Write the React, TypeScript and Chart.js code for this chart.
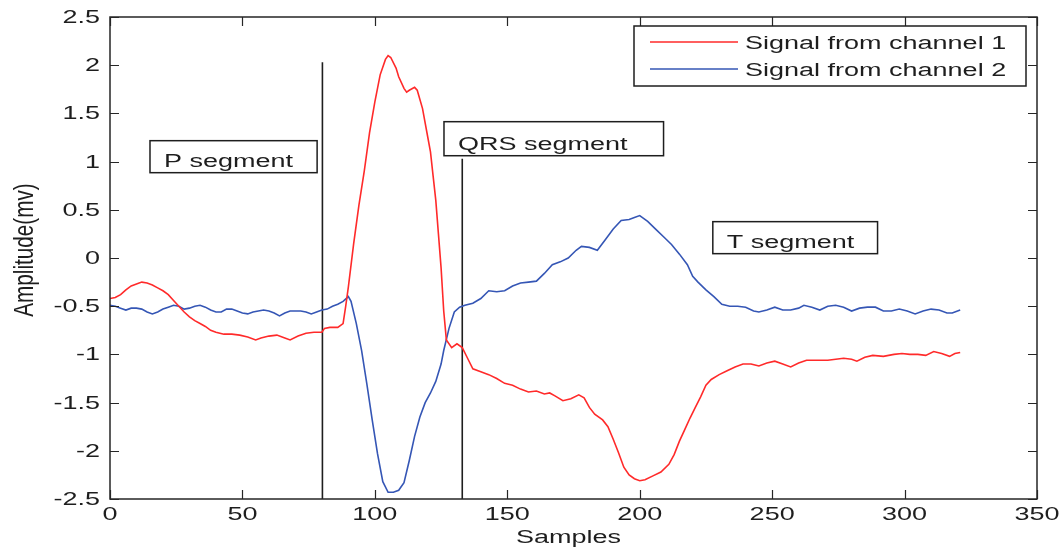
import React, { useEffect, useRef } from 'react';
import { Chart, registerables } from 'chart.js';

Chart.register(...registerables);

// ---- Data ----
const ch1Samples = [
  0, 2, 4, 6, 8, 10, 12, 14, 16, 18, 20, 22, 24, 26, 28, 30, 32, 34, 36, 38, 40, 43, 46, 49, 52, 55, 57, 60, 63, 66, 68, 71, 74, 77, 80,
  81, 83, 86, 88, 89, 90, 92, 94, 96, 98, 100, 102, 104, 105, 106, 108, 109, 111, 112, 113, 115, 116, 118, 120, 121, 122, 123, 124, 125,
  126, 127, 129, 131, 133, 135, 137, 140, 143, 146, 149, 152, 155, 158, 161, 164, 166, 168, 171, 174, 177, 179, 181, 183, 186, 188, 190,
  192, 194, 196, 198, 200, 202, 205, 208, 211, 213, 215, 217, 219, 221, 223, 225, 227, 230, 233, 236, 239, 242, 245, 248, 251, 254, 257,
  260, 263, 267, 271, 274, 277, 280, 282, 285, 288, 292, 296, 299, 302, 305, 308, 311, 314, 317, 319, 321,
];
const ch1Values = [
  -0.42, -0.41, -0.38, -0.33, -0.29, -0.27, -0.25, -0.26, -0.28, -0.31, -0.34, -0.38, -0.44, -0.5, -0.56, -0.61, -0.65, -0.68, -0.71, -0.75,
  -0.77, -0.79, -0.79, -0.8, -0.82, -0.85, -0.83, -0.81, -0.8, -0.83, -0.85, -0.81, -0.78, -0.77, -0.77,
  -0.73, -0.72, -0.72, -0.68, -0.5, -0.3, 0.15, 0.55, 0.9, 1.3, 1.62, 1.9, 2.06, 2.1, 2.08, 1.97, 1.88, 1.76, 1.72, 1.74, 1.77, 1.74, 1.55,
  1.25, 1.1, 0.85, 0.6, 0.25, -0.1,
  -0.55, -0.85, -0.93, -0.89, -0.93, -1.04, -1.15, -1.18, -1.21, -1.25, -1.3, -1.32, -1.36, -1.39, -1.38, -1.41, -1.4, -1.43, -1.48, -1.46,
  -1.42, -1.45, -1.55, -1.62, -1.68, -1.75, -1.88,
  -2.02, -2.17, -2.25, -2.29, -2.31, -2.3, -2.26, -2.22, -2.14, -2.04, -1.9, -1.78, -1.66, -1.55, -1.44, -1.32, -1.26, -1.21, -1.17, -1.13,
  -1.1, -1.1, -1.12, -1.09, -1.07, -1.1, -1.13,
  -1.09, -1.06, -1.06, -1.06, -1.05, -1.04, -1.05, -1.07, -1.03, -1.01, -1.02, -1.0, -0.99, -1.0, -1.0, -1.01, -0.97, -0.99, -1.02, -0.99,
  -0.98,
];

const ch2Samples = [
  0, 2, 4, 6, 8, 10, 12, 14, 16, 18, 20, 22, 24, 26, 28, 30, 32, 34, 36, 38, 40, 42, 44, 46, 48, 50, 52, 54, 56, 58, 60, 62, 64, 66, 68,
  70, 72, 74, 76, 78, 80, 82, 84, 86, 88, 90, 91, 93, 95, 97, 99, 101, 103, 105, 107, 109, 111, 113, 115, 117, 119, 121, 123, 125, 126,
  128, 130, 132, 134, 137, 140, 143, 146, 149, 152, 155, 158, 161, 164, 167, 170, 173, 176, 178, 181, 184, 187, 190, 193, 196, 198, 200,
  203, 206, 209, 212, 215, 218, 220, 222, 225, 228, 231, 234, 237, 240, 243, 245, 248, 251, 254, 257, 260, 262, 265, 268, 271, 274, 277,
  280, 283, 286, 289, 292, 295, 298, 301, 304, 307, 310, 313, 316, 318, 321,
];
const ch2Values = [
  -0.49, -0.5, -0.52, -0.54, -0.52, -0.52, -0.53, -0.56, -0.58, -0.56, -0.53, -0.51, -0.49, -0.5, -0.53, -0.52, -0.5, -0.49, -0.51, -0.54,
  -0.56, -0.56, -0.53, -0.53, -0.55, -0.57, -0.58, -0.56, -0.55, -0.54, -0.55, -0.57, -0.6, -0.57, -0.55,
  -0.55, -0.55, -0.56, -0.58, -0.56, -0.54, -0.53, -0.5, -0.48, -0.45, -0.4, -0.45, -0.68, -0.96, -1.31, -1.68, -2.03, -2.32, -2.43, -2.43,
  -2.41, -2.33, -2.1, -1.85, -1.65, -1.5, -1.4, -1.28, -1.1, -0.96,
  -0.73, -0.56, -0.51, -0.49, -0.47, -0.42, -0.34, -0.35, -0.34, -0.29, -0.26, -0.25, -0.24, -0.16, -0.07, -0.04, 0.0, 0.08, 0.12, 0.11,
  0.08, 0.19, 0.3, 0.39, 0.4, 0.42, 0.44,
  0.38, 0.3, 0.22, 0.14, 0.04, -0.07, -0.19, -0.25, -0.33, -0.4, -0.48, -0.5, -0.5, -0.51, -0.55, -0.56, -0.54, -0.51, -0.54, -0.54, -0.52,
  -0.49, -0.51, -0.54, -0.5, -0.49, -0.51,
  -0.55, -0.52, -0.51, -0.51, -0.55, -0.55, -0.53, -0.55, -0.58, -0.55, -0.53, -0.54, -0.57, -0.57, -0.54,
];

// Segment boundary markers
const markerSamples = [80.2, 133.0];
const markerTops = [2.03, 1.03];
const markerBottom = -2.5;

// Axis ticks
const xTicks = [0, 50, 100, 150, 200, 250, 300, 350];
const yTicks = [-2.5, -2, -1.5, -1, -0.5, 0, 0.5, 1, 1.5, 2, 2.5];
const yTickLabels = ['-2.5', '-2', '-1.5', '-1', '-0.5', '0', '0.5', '1', '1.5', '2', '2.5'];

// Text annotations
const segmentLabels = ['P segment', 'QRS segment', 'T segment'];
const segmentBoxLeft = [15.1, 126.1, 227.6];
const segmentBoxRight = [78.2, 209.0, 289.8];
const segmentBoxTop = [1.217, 1.414, 0.377];
const segmentBoxBottom = [0.885, 1.061, 0.045];

const seriesNames = ['Signal from channel 1', 'Signal from channel 2'];
const RED = '#ff2a2a';
const BLUE = '#3556b5';
const INK = '#1e1e1e';
const FONT = '18px "Liberation Sans", Arial, sans-serif';
const SX = 1.5;

function stretchText(
  ctx: CanvasRenderingContext2D,
  text: string,
  x: number,
  y: number,
  align: CanvasTextAlign,
) {
  ctx.save();
  ctx.translate(x, y);
  ctx.scale(SX, 1);
  ctx.font = FONT;
  ctx.fillStyle = INK;
  ctx.textAlign = align;
  ctx.textBaseline = 'alphabetic';
  ctx.fillText(text, 0, 0);
  ctx.restore();
}

const matlabPlugin = {
  id: 'matlabLook',
  afterDraw(chart: any) {
    const { ctx, chartArea: ca } = chart;
    const xs = chart.scales.x;
    const ys = chart.scales.y;
    ctx.save();
    // frame
    ctx.strokeStyle = '#262626';
    ctx.lineWidth = 1.5;
    ctx.strokeRect(ca.left, ca.top, ca.right - ca.left, ca.bottom - ca.top);
    // ticks
    ctx.lineWidth = 1.2;
    ctx.beginPath();
    const tl = 9;
    xTicks.forEach((v) => {
      const px = Math.round(xs.getPixelForValue(v)) + 0.5;
      ctx.moveTo(px, ca.bottom);
      ctx.lineTo(px, ca.bottom - tl);
      ctx.moveTo(px, ca.top);
      ctx.lineTo(px, ca.top + tl);
    });
    yTicks.forEach((v) => {
      const py = Math.round(ys.getPixelForValue(v)) + 0.5;
      ctx.moveTo(ca.left, py);
      ctx.lineTo(ca.left + tl, py);
      ctx.moveTo(ca.right, py);
      ctx.lineTo(ca.right - tl, py);
    });
    ctx.stroke();
    // tick labels
    xTicks.forEach((v) => {
      stretchText(ctx, String(v), xs.getPixelForValue(v), ca.bottom + 21, 'center');
    });
    yTicks.forEach((v, i) => {
      stretchText(ctx, yTickLabels[i], ca.left - 10, ys.getPixelForValue(v) + 6, 'right');
    });
    // axis titles
    stretchText(ctx, 'Samples', (ca.left + ca.right) / 2 - 5, ca.bottom + 44, 'center');
    ctx.save();
    ctx.translate(33, 250);
    ctx.rotate(-Math.PI / 2);
    ctx.scale(1.15, SX);
    ctx.font = FONT;
    ctx.fillStyle = INK;
    ctx.textAlign = 'center';
    ctx.textBaseline = 'alphabetic';
    ctx.fillText('Amplitude(mv)', 0, 0);
    ctx.restore();

    // segment boxes
    segmentLabels.forEach((label, i) => {
      const l = xs.getPixelForValue(segmentBoxLeft[i]);
      const r = xs.getPixelForValue(segmentBoxRight[i]);
      const t = ys.getPixelForValue(segmentBoxTop[i]);
      const b = ys.getPixelForValue(segmentBoxBottom[i]);
      ctx.strokeStyle = INK;
      ctx.lineWidth = 1.5;
      ctx.strokeRect(l, t, r - l, b - t);
      stretchText(ctx, label, l + 14, b - 6, 'left');
    });

    // legend
    const lw = 392;
    const lh = 60;
    const lx = ca.right - 11 - lw;
    const ly = ca.top + 9;
    ctx.fillStyle = '#ffffff';
    ctx.fillRect(lx, ly, lw, lh);
    ctx.strokeStyle = INK;
    ctx.lineWidth = 1.5;
    ctx.strokeRect(lx, ly, lw, lh);
    const colors = [RED, BLUE];
    seriesNames.forEach((name, i) => {
      const cy = ly + 16 + i * 27;
      ctx.strokeStyle = colors[i];
      ctx.lineWidth = 1.5;
      ctx.beginPath();
      ctx.moveTo(lx + 16, cy);
      ctx.lineTo(lx + 104, cy);
      ctx.stroke();
      stretchText(ctx, name, lx + 111, cy + 7, 'left');
    });
    ctx.restore();
  },
};

export default function App() {
  const ref = useRef<HTMLCanvasElement>(null);
  useEffect(() => {
    const toPts = (xs: number[], ys: number[]) => xs.map((x, i) => ({ x, y: ys[i] }));
    const markerSets = markerSamples.map((m, i) => ({
      label: 'marker' + i,
      data: [
        { x: m, y: markerBottom },
        { x: m, y: markerTops[i] },
      ],
      borderColor: INK,
      borderWidth: 1.6,
      pointRadius: 0,
      tension: 0,
    }));
    const chart = new Chart(ref.current as HTMLCanvasElement, {
      type: 'line',
      data: {
        datasets: [
          {
            label: seriesNames[0],
            data: toPts(ch1Samples, ch1Values),
            borderColor: RED,
            borderWidth: 1.6,
            pointRadius: 0,
            tension: 0,
          },
          {
            label: seriesNames[1],
            data: toPts(ch2Samples, ch2Values),
            borderColor: BLUE,
            borderWidth: 1.6,
            pointRadius: 0,
            tension: 0,
          },
          ...markerSets,
        ],
      },
      options: {
        animation: false,
        responsive: true,
        maintainAspectRatio: false,
        parsing: true,
        layout: { padding: { left: 110, top: 17, right: 25, bottom: 49 } },
        plugins: { legend: { display: false }, tooltip: { enabled: false } },
        scales: {
          x: { type: 'linear', min: 0, max: 350, display: false },
          y: { type: 'linear', min: -2.5, max: 2.5, display: false },
        },
      },
      plugins: [matlabPlugin],
    } as any);
    return () => chart.destroy();
  }, []);
  return (
    <div style={{ position: 'absolute', left: 0, top: 0, width: 1062, height: 548, background: '#fff' }}>
      <canvas ref={ref} />
    </div>
  );
}
